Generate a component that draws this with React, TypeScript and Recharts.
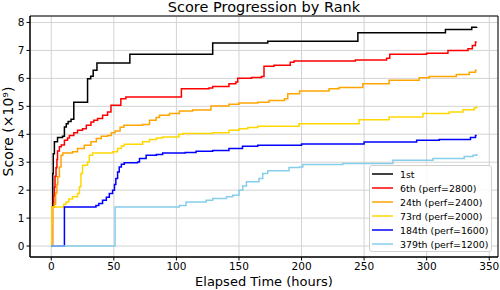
import React from "react";
import {
  LineChart,
  Line,
  XAxis,
  YAxis,
  CartesianGrid,
  Legend,
  ReferenceArea,
} from "recharts";

type Pt = { t: number; v: number };
const mk = (pairs: number[][]): Pt[] => pairs.map(([t, v]) => ({ t, v }));

const rank1st = mk([
  [0, 0], [0.8, 1.4], [1.2, 2.6], [1.6, 3.3], [2.5, 3.73], [5, 3.88], [9, 3.93],
  [10.5, 4.26], [12, 4.38], [13.5, 4.46], [15.8, 4.54], [18, 5.15], [29, 5.99],
  [31.5, 6.08], [33.5, 6.29], [36.5, 6.55], [62.8, 6.86], [129, 7.27], [173, 7.33],
  [245, 7.63], [315, 7.75], [336, 7.83], [340, 7.84],
]);

const rank6th = mk([
  [0, 0], [1, 1.4], [2, 1.8], [2.5, 2.1], [3, 2.5], [3.8, 2.8], [4.5, 3.1], [5, 3.4],
  [6.5, 3.55], [8, 3.62], [10.5, 3.79], [13, 3.87], [14.5, 3.96], [18, 4.05],
  [21, 4.14], [25, 4.2], [28, 4.32], [31.7, 4.44], [34, 4.5], [37, 4.56], [41, 4.68],
  [45, 4.8], [47.7, 5.04], [55.6, 5.27], [59.6, 5.33], [104, 5.63], [126, 5.66],
  [129, 5.71], [142, 5.81], [147.5, 5.87], [149, 6.0], [160, 6.03], [168, 6.07],
  [170, 6.43], [178, 6.47], [191, 6.58], [194, 6.62], [243, 6.66], [268, 6.72],
  [270.5, 6.86], [300, 6.9], [317, 7.0], [333, 7.06], [336.5, 7.18], [339, 7.3],
  [340, 7.3],
]);

const rank24th = mk([
  [0, 0], [0.5, 0.8], [1, 1.4], [2.5, 1.5], [3.5, 1.9], [4.5, 2.2], [5.2, 2.48],
  [6.5, 2.83], [7.8, 3.25], [9.2, 3.33], [17, 3.37], [21, 3.49], [26.4, 3.61],
  [31.7, 3.73], [36, 3.85], [40, 3.93], [45, 3.96], [48, 4.05], [51, 4.12],
  [55, 4.25], [58, 4.32], [73, 4.35], [78.5, 4.5], [83.8, 4.6], [86.5, 4.68],
  [94.4, 4.74], [102.4, 4.83], [113, 4.87], [127.6, 5.01], [142, 5.07], [150, 5.12],
  [165, 5.15], [174, 5.21], [186.4, 5.27], [189, 5.45], [198.4, 5.55], [222, 5.63],
  [230, 5.67], [249, 5.81], [270, 5.93], [294, 6.02], [302, 6.07], [323.7, 6.14],
  [334, 6.22], [339, 6.29], [340, 6.29],
]);

const rank73rd = mk([
  [0, 0], [0.5, 1.4], [10, 1.5], [11.8, 1.58], [14, 1.68], [17, 1.76], [21, 1.88],
  [22.5, 2.12], [23.7, 2.6], [25, 2.89], [29, 3.01], [30.4, 3.25], [33, 3.33],
  [49, 3.37], [53, 3.49], [56, 3.58], [58.3, 3.64], [73, 3.73], [78.5, 3.81],
  [84, 3.87], [89, 3.9], [102, 4.0], [105, 4.03], [129, 4.05], [142, 4.14],
  [150, 4.2], [157, 4.24], [165, 4.29], [198, 4.38], [246, 4.52], [270, 4.62],
  [297, 4.74], [318, 4.8], [329, 4.88], [338, 4.95], [340, 5.0],
]);

const rank184th = mk([
  [0, 0], [10.5, 1.4], [35.7, 1.45], [38, 1.52], [41, 1.64], [44, 1.75],
  [46.4, 1.88], [49, 2.0], [50.5, 2.2], [51.6, 2.42], [53, 2.65], [54.3, 2.83],
  [56, 2.93], [58.3, 2.98], [69, 3.01], [70.5, 3.13], [75.8, 3.25], [84, 3.28],
  [89, 3.33], [107, 3.35], [115.7, 3.39], [129, 3.42], [142, 3.49], [152.8, 3.57],
  [165, 3.61], [200, 3.65], [250, 3.72], [292, 3.79], [310, 3.81], [335, 3.88],
  [339, 3.96], [340, 3.96],
]);

const rank379th = mk([
  [0, 0], [51, 1.4], [102.4, 1.45], [107.7, 1.58], [123.7, 1.64], [129, 1.7],
  [140, 1.76], [145, 1.82], [150, 2.0], [153, 2.15], [156, 2.3], [166, 2.42],
  [169, 2.6], [173, 2.69], [190, 2.81], [198.4, 2.83], [201, 2.92], [233, 2.95],
  [273, 3.07], [305, 3.13], [330, 3.2], [337, 3.25], [340, 3.29],
]);

const seriesNames = [
  "1st",
  "6th (perf=2800)",
  "24th (perf=2400)",
  "73rd (perf=2000)",
  "184th (perf=1600)",
  "379th (perf=1200)",
];
const seriesData = [rank1st, rank6th, rank24th, rank73rd, rank184th, rank379th];
const seriesColors = ["#000000", "#ff0000", "#ffa500", "#ffd700", "#0000ff", "#87ceeb"];

const xTicks = [0, 50, 100, 150, 200, 250, 300, 350];
const yTicks = [0, 1, 2, 3, 4, 5, 6, 7, 8];
const xDomain: [number, number] = [-17, 357];
const yDomain: [number, number] = [-0.392, 8.232];

const FONT = "'DejaVu Sans', sans-serif";

const LegendBox = (props: any) => {
  const payload = [...(props.payload || [])].sort(
    (a: any, b: any) => seriesNames.indexOf(a.value) - seriesNames.indexOf(b.value)
  );
  return (
    <div
      style={{
        boxSizing: "border-box",
        width: 123,
        height: 87,
        border: "1px solid #d0d0d0",
        borderRadius: 3,
        background: "rgba(255,255,255,0.85)",
        paddingTop: 1,
        fontFamily: FONT,
        fontSize: 9.4,
        color: "#000",
      }}
    >
      {payload.map((p: any) => (
        <div
          key={p.value}
          style={{ height: 14, display: "flex", alignItems: "center", marginLeft: 2 }}
        >
          <svg width={21} height={4} style={{ display: "block" }}>
            <line x1={0} y1={2} x2={21} y2={2} stroke={p.color} strokeWidth={1.5} />
          </svg>
          <span style={{ marginLeft: 7, whiteSpace: "nowrap" }}>{p.value}</span>
        </div>
      ))}
    </div>
  );
};

export default function App() {
  return (
    <div style={{ position: "absolute", left: 0, top: 0, width: 500, height: 290, background: "#fff" }}>
      <div
        style={{
          position: "absolute",
          left: 30,
          width: 468,
          top: -1,
          textAlign: "center",
          fontFamily: FONT,
          fontSize: 14.5,
          lineHeight: "17px",
          color: "#000",
        }}
      >
        Score Progression by Rank
      </div>
      <LineChart
        width={500}
        height={290}
        margin={{ top: 16, right: 2, bottom: 0, left: 0 }}
        style={{ fontFamily: FONT }}
      >
        <CartesianGrid stroke="#d3d3d3" strokeWidth={1} />
        <XAxis
          type="number"
          dataKey="t"
          domain={xDomain}
          ticks={xTicks}
          allowDataOverflow
          height={33}
          tickSize={3.5}
          tickMargin={2}
          stroke="#000"
          tick={{ fill: "#000", fontSize: 10.5 }}
          label={{ value: "Elapsed Time (hours)", position: "insideBottom", offset: 4.5, fill: "#000", fontSize: 13 }}
        />
        <YAxis
          type="number"
          dataKey="v"
          domain={yDomain}
          ticks={yTicks}
          allowDataOverflow
          width={30}
          tickSize={3.5}
          tickMargin={2}
          stroke="#000"
          tick={{ fill: "#000", fontSize: 10.5 }}
          label={{ value: "Score (×10⁹)", angle: -90, position: "center", dx: -7, dy: -5, fill: "#000", fontSize: 14 }}
        />
        <ReferenceArea
          x1={xDomain[0]}
          x2={xDomain[1]}
          y1={yDomain[0]}
          y2={yDomain[1]}
          fill="none"
          stroke="#000"
          strokeWidth={1}
          fillOpacity={0}
        />
        {seriesData.map((d, i) => (
          <Line
            key={seriesNames[i]}
            data={d}
            dataKey="v"
            name={seriesNames[i]}
            type="stepAfter"
            stroke={seriesColors[i]}
            strokeWidth={1.5}
            dot={false}
            activeDot={false}
            isAnimationActive={false}
          />
        ))}
        <Legend
          layout="vertical"
          align="center"
          verticalAlign="middle"
          content={<LegendBox />}
          wrapperStyle={{ position: "absolute", left: 369, top: 165, width: 123, height: 87, bottom: "auto", right: "auto" }}
        />
      </LineChart>
    </div>
  );
}
